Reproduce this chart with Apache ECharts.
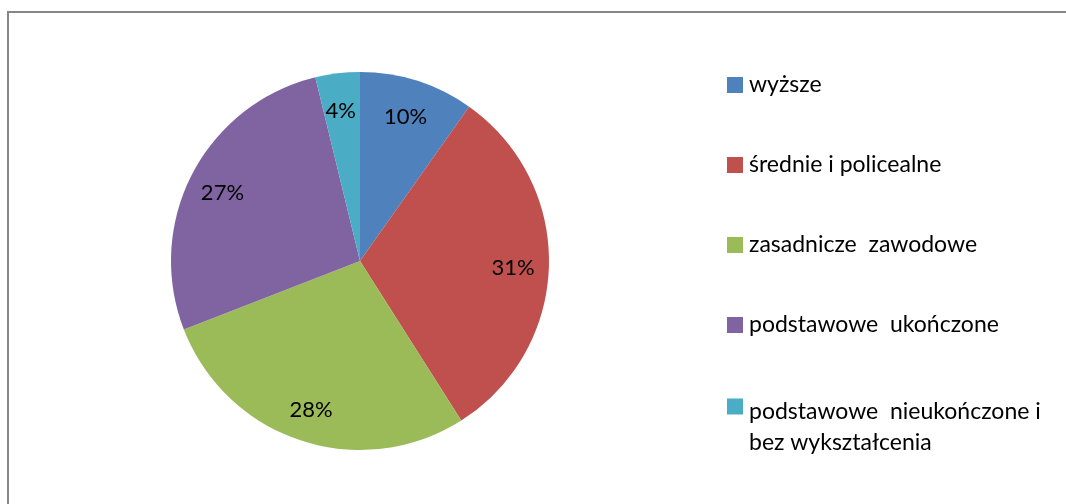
<!DOCTYPE html>
<html>
<head>
<meta charset="utf-8">
<script src="https://cdn.jsdelivr.net/npm/echarts@6/dist/echarts.min.js"></script>
<style>
html,body{margin:0;padding:0;background:#fff;}
#c{width:1066px;height:504px;}
</style>
</head>
<body>
<div id="c"></div>
<script>
const categories = ['wyższe', 'średnie i policealne', 'zasadnicze zawodowe', 'podstawowe  ukończone', 'podstawowe  nieukończone i bez wykształcenia'];
const legendLines = [['wyższe'], ['średnie i policealne'], ['zasadnicze  zawodowe'], ['podstawowe  ukończone'], ['podstawowe  nieukończone i', 'bez wykształcenia']];
const shares = [9.8, 31.2, 28.1, 27.1, 3.8];
const colors = ['#4F81BD', '#C0504D', '#9BBB59', '#8064A2', '#4BACC6'];

const FONT = 'Lato';
const chart = echarts.init(document.getElementById('c'), null, {renderer: 'canvas'});
const data = categories.map((n, i) => ({name: n, value: shares[i], itemStyle: {color: colors[i]}}));

const legendTops = [72, 152, 232, 312, 355];
const legends = categories.map((n, i) => {
  const multi = legendLines[i].length > 1;
  return {
    data: [n],
    orient: 'vertical',
    left: 727,
    top: legendTops[i],
    padding: 0,
    itemWidth: 16,
    itemHeight: 16,
    icon: 'rect',
    selectedMode: false,
    formatter: () => multi
      ? '{s| }\n' + legendLines[i].map(t => '{a|' + t + '}').join('\n')
      : legendLines[i][0],
    textStyle: {
      fontFamily: FONT, fontSize: 23, color: '#000',
      lineHeight: 26,
      padding: [0, 0, 0, 1],
      rich: {
        s: {fontFamily: FONT, fontSize: 10, lineHeight: 41},
        a: {fontFamily: FONT, fontSize: 23, color: '#000', lineHeight: 31}
      }
    }
  };
});

chart.setOption({
  animation: false,
  legend: legends,
  graphic: [{
    type: 'rect', shape: {x: 8, y: 12, width: 1200, height: 700},
    style: {fill: 'none', stroke: '#878787', lineWidth: 2}, silent: true
  }],
  series: [{
    type: 'pie',
    center: [360, 261],
    radius: [0, 189],
    startAngle: 90,
    clockwise: true,
    silent: true,
    label: {show: false},
    labelLine: {show: false},
    itemStyle: {borderWidth: 0},
    data: data
  }, {
    type: 'pie',
    center: [360, 261],
    radius: [99, 203],
    startAngle: 90,
    clockwise: true,
    silent: true,
    itemStyle: {color: 'rgba(0,0,0,0)', borderWidth: 0},
    label: {
      show: true, position: 'inside',
      fontFamily: FONT, fontSize: 22, color: '#000',
      offset: [-1, 3],
      formatter: p => Math.round(p.percent) + '%'
    },
    labelLine: {show: false},
    data: categories.map((n, i) => ({name: n, value: shares[i], itemStyle: {color: 'rgba(0,0,0,0)'}}))
  }]
});
</script>
</body>
</html>
